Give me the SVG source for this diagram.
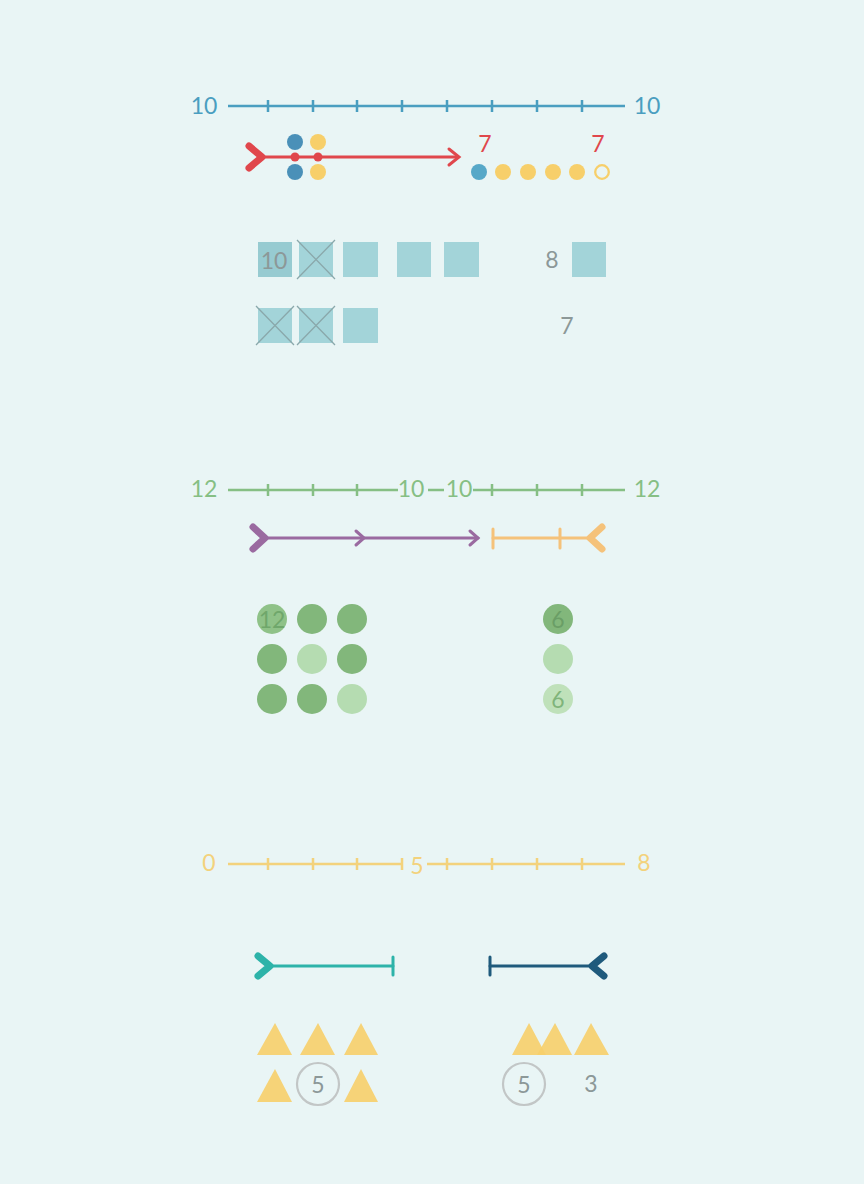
<svg xmlns="http://www.w3.org/2000/svg" width="864" height="1184" viewBox="0 0 864 1184">
<style>
text{font-family:Lato,"Open Sans","Liberation Sans",sans-serif;font-size:23px;text-anchor:middle;dominant-baseline:central}
.blue{fill:#4a9ec0}.green{fill:#86bf84}.yel{fill:#f3d27c}.red{fill:#e0474c}.gray{fill:#8c9898}
.sq{fill:#a3d4d9}
.x{stroke:#8aa8ab;stroke-width:1.3}
.tailc{fill:none;stroke-width:7;stroke-linecap:round;stroke-linejoin:round}
.ln{fill:none;stroke-width:3;stroke-linecap:round}
.tri{fill:#f7cf6a;fill-opacity:0.9}
.ring{fill:none;stroke:#c2c6c6;stroke-width:2.2}
</style>
<rect width="864" height="1184" fill="#e9f5f5"/>

<g id="connectors">
  <g stroke="#4a9ec0" stroke-width="2.5" fill="none">
    <line x1="228" y1="106" x2="625" y2="106"/>
    <path d="M268,100V112M313,100V112M357,100V112M402,100V112M447,100V112M492,100V112M537,100V112M582,100V112"/>
  </g>
  <g stroke="#e0474c">
    <line class="ln" x1="262" y1="157" x2="458" y2="157"/>
    <path class="tailc" d="M249,146L262,157L249,168"/>
    <path class="ln" d="M449,149L459,157L449,165"/>
  </g>
  <g stroke="#86bf84" stroke-width="2.5" fill="none">
    <line x1="228" y1="490" x2="398" y2="490"/>
    <line x1="428" y1="490" x2="444" y2="490"/>
    <line x1="473" y1="490" x2="625" y2="490"/>
    <path d="M268,484V496M313,484V496M357,484V496M492,484V496M537,484V496M582,484V496"/>
  </g>
  <g stroke="#9a6aa0">
    <line class="ln" x1="265" y1="538" x2="478" y2="538"/>
    <path class="tailc" d="M253,527L265,538L253,549"/>
    <path class="ln" d="M356,531L364,538L356,545"/>
    <path class="ln" d="M470,531L478,538L470,545"/>
  </g>
  <g stroke="#f5c27a">
    <line class="ln" x1="493" y1="538" x2="592" y2="538"/>
    <path class="ln" d="M493,529V548M560,529V548"/>
    <path class="tailc" d="M602,527L590,538L602,549"/>
  </g>
  <g stroke="#f3d27c" stroke-width="2.5" fill="none">
    <line x1="228" y1="864" x2="402" y2="864"/>
    <line x1="427" y1="864" x2="625" y2="864"/>
    <path d="M268,858V870M313,858V870M357,858V870M402,858V870M447,858V870M492,858V870M537,858V870M582,858V870"/>
  </g>
  <g stroke="#2db3a9">
    <line class="ln" x1="268" y1="966" x2="393" y2="966"/>
    <path class="tailc" d="M258,956L270,966L258,976"/>
    <path class="ln" d="M393,957V975"/>
  </g>
  <g stroke="#1f5a7c">
    <line class="ln" x1="490" y1="966" x2="592" y2="966"/>
    <path class="ln" d="M490,957V975"/>
    <path class="tailc" d="M604,956L592,966L604,976"/>
  </g>
</g>

<g id="labels-line1">
  <text class="blue" x="204" y="105">10</text>
  <text class="blue" x="647" y="105">10</text>
</g>

<g id="dots1">
  <circle cx="295" cy="142" r="8" fill="#4a90b8"/>
  <circle cx="295" cy="172" r="8" fill="#4a90b8"/>
  <circle cx="318" cy="142" r="8" fill="#f7cf6a"/>
  <circle cx="318" cy="172" r="8" fill="#f7cf6a"/>
  <circle cx="295" cy="157" r="4.5" fill="#e0474c"/>
  <circle cx="318" cy="157" r="4.5" fill="#e0474c"/>
</g>

<g id="dots2">
  <text class="red" x="485" y="143">7</text>
  <text class="red" x="598" y="143">7</text>
  <circle cx="479" cy="172" r="8" fill="#56a8c8"/>
  <circle cx="503" cy="172" r="8" fill="#f7cf6a"/>
  <circle cx="528" cy="172" r="8" fill="#f7cf6a"/>
  <circle cx="553" cy="172" r="8" fill="#f7cf6a"/>
  <circle cx="577" cy="172" r="8" fill="#f7cf6a"/>
  <circle cx="602" cy="172" r="6.8" fill="none" stroke="#f7cf6a" stroke-width="2.3"/>
</g>

<g id="squares">
  <rect x="258" y="242" width="34" height="35" fill="#97cbd1"/>
  <text class="gray" x="274" y="260">10</text>
  <rect class="sq" x="299" y="242" width="34" height="35"/>
  <path class="x" d="M297,240L335,279M335,240L297,279"/>
  <rect class="sq" x="343" y="242" width="35" height="35"/>
  <rect class="sq" x="397" y="242" width="34" height="35"/>
  <rect class="sq" x="444" y="242" width="35" height="35"/>
  <text class="gray" x="552" y="259">8</text>
  <rect class="sq" x="572" y="242" width="34" height="35"/>

  <rect class="sq" x="258" y="308" width="34" height="35"/>
  <path class="x" d="M256,306L294,345M294,306L256,345"/>
  <rect class="sq" x="299" y="308" width="34" height="35"/>
  <path class="x" d="M297,306L335,345M335,306L297,345"/>
  <rect class="sq" x="343" y="308" width="35" height="35"/>
  <text class="gray" x="567" y="325">7</text>
</g>

<g id="labels-line2">
  <text class="green" x="204" y="488">12</text>
  <text class="green" x="411" y="488">10</text>
  <text class="green" x="459" y="488">10</text>
  <text class="green" x="647" y="488">12</text>
</g>

<g id="circles">
  <circle cx="272" cy="619" r="15" fill="#8fc288"/>
  <text x="272" y="619" fill="#6fa76b" font-size="21">12</text>
  <circle cx="312" cy="619" r="15" fill="#82b77b"/>
  <circle cx="352" cy="619" r="15" fill="#82b77b"/>
  <circle cx="272" cy="659" r="15" fill="#82b77b"/>
  <circle cx="312" cy="659" r="15" fill="#b5dcb1"/>
  <circle cx="352" cy="659" r="15" fill="#82b77b"/>
  <circle cx="272" cy="699" r="15" fill="#82b77b"/>
  <circle cx="312" cy="699" r="15" fill="#82b77b"/>
  <circle cx="352" cy="699" r="15" fill="#b5dcb1"/>
  <circle cx="558" cy="619" r="15" fill="#82b77b"/>
  <text x="558" y="619" fill="#6a9e66" font-size="21">6</text>
  <circle cx="558" cy="659" r="15" fill="#b5dcb1"/>
  <circle cx="558" cy="699" r="15" fill="#bfe1ba"/>
  <text x="558" y="699" fill="#7fb47a" font-size="21">6</text>
</g>

<g id="labels-line3">
  <text class="yel" x="209" y="862">0</text>
  <text class="yel" x="417" y="865">5</text>
  <text class="yel" x="644" y="862">8</text>
</g>

<g id="triangles">
  <polygon class="tri" points="257,1055 275,1023 292,1055"/>
  <polygon class="tri" points="300,1055 318,1023 335,1055"/>
  <polygon class="tri" points="344,1055 361,1023 378,1055"/>
  <polygon class="tri" points="257,1102 275,1069 292,1102"/>
  <circle class="ring" cx="318" cy="1084" r="21"/>
  <text class="gray" x="318" y="1084">5</text>
  <polygon class="tri" points="344,1102 361,1069 378,1102"/>

  <polygon class="tri" points="512,1055 529,1023 546,1055"/>
  <polygon class="tri" points="537,1055 555,1023 572,1055"/>
  <polygon class="tri" points="574,1055 591,1023 609,1055"/>
  <circle class="ring" cx="524" cy="1084" r="21"/>
  <text class="gray" x="524" y="1084">5</text>
  <text class="gray" x="591" y="1083">3</text>
</g>
</svg>
